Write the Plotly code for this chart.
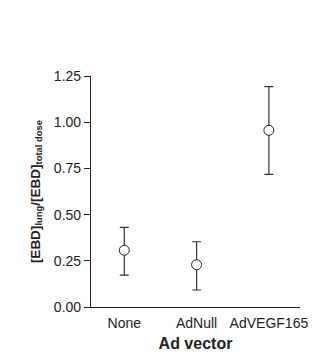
import plotly.graph_objects as go

categories = ["None", "AdNull", "AdVEGF165"]
means = [0.307, 0.229, 0.956]
err_plus = [0.124, 0.124, 0.236]
err_minus = [0.134, 0.137, 0.238]
y_ticks = [0.00, 0.25, 0.50, 0.75, 1.00, 1.25]
y_tick_labels = ["0.00", "0.25", "0.50", "0.75", "1.00", "1.25"]

axis_color = "#222222"
font_family = "Liberation Sans, Arial, sans-serif"

fig = go.Figure()
fig.add_trace(go.Scatter(
    x=list(range(len(categories))),
    y=means,
    mode="markers",
    marker=dict(symbol="circle", size=10, color="white",
                line=dict(color=axis_color, width=1)),
    error_y=dict(type="data", symmetric=False, array=err_plus,
                 arrayminus=err_minus, color="#333333", thickness=1.2, width=4.5),
    showlegend=False,
))

fig.update_layout(
    width=312, height=344,
    margin=dict(l=83, r=20, t=68, b=45),
    paper_bgcolor="white", plot_bgcolor="white",
    font=dict(family=font_family, size=14, color="#222222"),
    xaxis=dict(
        range=[-0.46, 2.43], automargin=False,
        tickmode="array", tickvals=list(range(len(categories))), ticktext=categories,
        showline=True, linecolor=axis_color, linewidth=1.2,
        ticks="outside", ticklen=3, tickcolor="rgba(0,0,0,0)",
        showgrid=False, zeroline=False,
        title=dict(text="<b>Ad vector</b>", font=dict(size=16), standoff=8),
        tickfont=dict(size=14),
    ),
    yaxis=dict(
        range=[0, 1.25], automargin=False,
        tickmode="array", tickvals=y_ticks, ticktext=y_tick_labels,
        showline=True, linecolor=axis_color, linewidth=1.2,
        ticks="outside", ticklen=6, tickcolor=axis_color, tickwidth=1,
        showgrid=False, zeroline=False,
        title=dict(text="<b>[EBD]<sub>lung</sub>/[EBD]<sub>total dose</sub></b>",
                   font=dict(size=13.5), standoff=10),
        tickfont=dict(size=14),
    ),
)

fig.write_html("out.html")
